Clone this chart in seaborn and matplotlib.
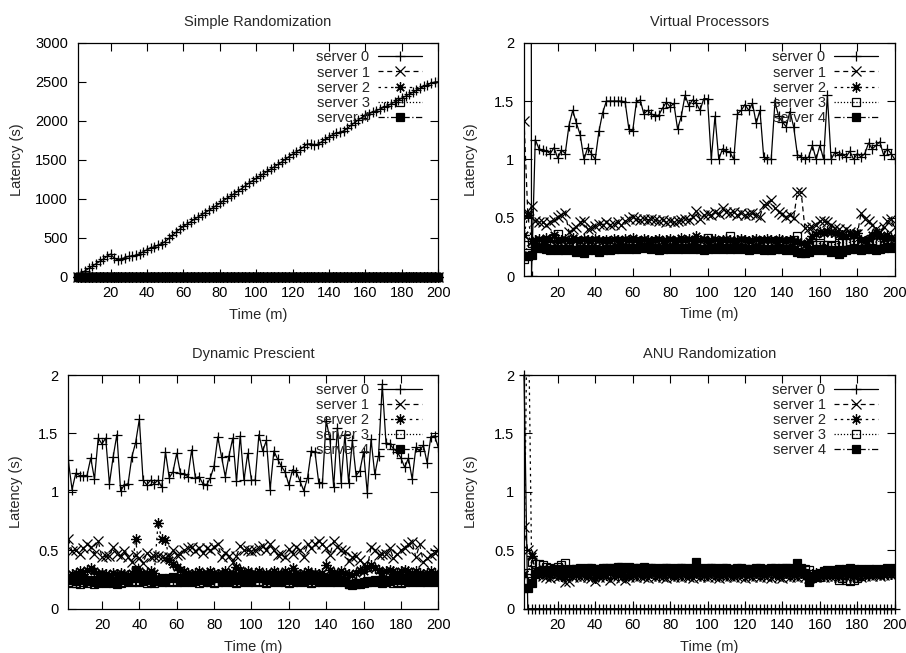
import matplotlib
matplotlib.use("Agg")
import matplotlib.pyplot as plt
import seaborn as sns
from matplotlib.ticker import FormatStrFormatter


# time axis: one sample every 2 minutes
time_m = list(range(2, 201, 2))
server_labels = ['server 0', 'server 1', 'server 2', 'server 3', 'server 4']

# --- Simple Randomization ---
simple_s0 = [15, 45, 75, 105, 135, 165, 195, 225, 260, 290,
             240, 215, 230, 245, 260, 268, 275, 295, 320, 345,
             365, 385, 400, 425, 450, 490, 530, 570, 610, 645,
             675, 705, 735, 765, 795, 822, 850, 880, 910, 940,
             975, 1005, 1035, 1065, 1095, 1130, 1165, 1200, 1230, 1260,
             1290, 1320, 1350, 1380, 1410, 1440, 1470, 1505, 1540, 1570,
             1600, 1630, 1665, 1700, 1705, 1690, 1700, 1730, 1760, 1790,
             1820, 1845, 1850, 1870, 1900, 1940, 1975, 2010, 2040, 2070,
             2090, 2110, 2130, 2150, 2170, 2190, 2215, 2240, 2265, 2290,
             2315, 2340, 2365, 2390, 2415, 2440, 2460, 2480, 2495, 2500]
simple_s1 = [0.0] * 100
simple_s2 = [0.0] * 100
simple_s3 = [0.0] * 100
simple_s4 = [0.0] * 100

# --- Virtual Processors ---
vp_s0 = [40.0, 40.0, 0.0, 1.17, 1.09, 1.08, 1.07, 1.05, 1.10, 1.01,
         1.08, 1.05, 1.29, 1.42, 1.31, 1.21, 1.00, 1.10, 1.05, 1.00,
         1.24, 1.40, 1.50, 1.50, 1.50, 1.50, 1.50, 1.49, 1.26, 1.24,
         1.49, 1.51, 1.39, 1.42, 1.39, 1.37, 1.38, 1.44, 1.49, 1.45,
         1.48, 1.26, 1.37, 1.55, 1.46, 1.51, 1.48, 1.42, 1.52, 1.52,
         1.00, 1.37, 1.00, 1.09, 1.07, 1.06, 1.00, 1.39, 1.42, 1.47,
         1.42, 1.48, 1.31, 1.42, 1.02, 1.00, 1.00, 1.49, 1.37, 1.32,
         1.28, 1.41, 1.28, 1.04, 1.02, 1.00, 1.02, 1.12, 1.00, 1.12,
         1.00, 1.55, 1.00, 1.06, 1.04, 1.05, 1.02, 1.07, 1.00, 1.05,
         1.02, 1.05, 1.14, 1.09, 1.12, 1.15, 1.04, 1.09, 1.05, 1.00]
vp_s1 = [1.33, 0.54, 0.60, 0.47, 0.46, 0.46, 0.44, 0.46, 0.48, 0.51,
         0.52, 0.54, 0.38, 0.40, 0.42, 0.46, 0.47, 0.40, 0.41, 0.43,
         0.45, 0.44, 0.46, 0.44, 0.45, 0.46, 0.44, 0.47, 0.49, 0.51,
         0.49, 0.48, 0.49, 0.48, 0.49, 0.48, 0.47, 0.48, 0.46, 0.47,
         0.46, 0.47, 0.48, 0.49, 0.48, 0.51, 0.56, 0.49, 0.52, 0.53,
         0.52, 0.55, 0.53, 0.58, 0.55, 0.54, 0.55, 0.52, 0.54, 0.52,
         0.53, 0.54, 0.52, 0.51, 0.61, 0.62, 0.65, 0.58, 0.55, 0.53,
         0.51, 0.52, 0.50, 0.72, 0.72, 0.41, 0.41, 0.42, 0.44, 0.47,
         0.47, 0.46, 0.44, 0.41, 0.40, 0.38, 0.40, 0.38, 0.36, 0.36,
         0.54, 0.49, 0.47, 0.44, 0.40, 0.38, 0.42, 0.47, 0.49, 0.42]
vp_s2 = [0.35, 0.52, 0.30, 0.31, 0.32, 0.30, 0.33, 0.31, 0.35, 0.30,
         0.31, 0.32, 0.30, 0.33, 0.31, 0.30, 0.32, 0.31, 0.30, 0.32,
         0.31, 0.30, 0.31, 0.30, 0.32, 0.31, 0.30, 0.32, 0.31, 0.33,
         0.31, 0.30, 0.32, 0.31, 0.30, 0.31, 0.32, 0.30, 0.31, 0.32,
         0.30, 0.31, 0.33, 0.31, 0.32, 0.30, 0.34, 0.31, 0.32, 0.30,
         0.31, 0.32, 0.30, 0.31, 0.32, 0.31, 0.30, 0.31, 0.32, 0.31,
         0.30, 0.31, 0.32, 0.30, 0.31, 0.32, 0.31, 0.30, 0.32, 0.31,
         0.30, 0.31, 0.30, 0.29, 0.28, 0.27, 0.30, 0.34, 0.36, 0.38,
         0.37, 0.39, 0.38, 0.37, 0.36, 0.35, 0.34, 0.36, 0.35, 0.37,
         0.31, 0.30, 0.32, 0.35, 0.38, 0.34, 0.32, 0.35, 0.33, 0.32]
vp_s3 = [0.15, 0.27, 0.28, 0.29, 0.30, 0.29, 0.31, 0.30, 0.33, 0.36,
         0.30, 0.29, 0.27, 0.28, 0.29, 0.30, 0.29, 0.30, 0.29, 0.30,
         0.28, 0.29, 0.30, 0.29, 0.28, 0.29, 0.30, 0.29, 0.28, 0.30,
         0.29, 0.30, 0.29, 0.28, 0.29, 0.30, 0.29, 0.28, 0.29, 0.30,
         0.29, 0.28, 0.29, 0.30, 0.29, 0.30, 0.29, 0.28, 0.30, 0.33,
         0.29, 0.28, 0.29, 0.30, 0.29, 0.34, 0.29, 0.28, 0.29, 0.30,
         0.29, 0.28, 0.29, 0.30, 0.29, 0.28, 0.29, 0.30, 0.29, 0.28,
         0.29, 0.30, 0.31, 0.34, 0.27, 0.26, 0.27, 0.28, 0.27, 0.28,
         0.27, 0.27, 0.26, 0.27, 0.28, 0.29, 0.28, 0.29, 0.30, 0.29,
         0.30, 0.29, 0.30, 0.31, 0.29, 0.30, 0.29, 0.30, 0.29, 0.30]
vp_s4 = [0.17, 0.17, 0.18, 0.25, 0.24, 0.24, 0.23, 0.22, 0.23, 0.22,
         0.23, 0.22, 0.23, 0.22, 0.21, 0.23, 0.20, 0.22, 0.23, 0.22,
         0.21, 0.22, 0.23, 0.22, 0.23, 0.24, 0.23, 0.24, 0.23, 0.24,
         0.23, 0.24, 0.25, 0.24, 0.23, 0.24, 0.22, 0.23, 0.24, 0.23,
         0.24, 0.23, 0.24, 0.23, 0.24, 0.23, 0.24, 0.23, 0.22, 0.23,
         0.24, 0.23, 0.24, 0.23, 0.24, 0.23, 0.24, 0.23, 0.24, 0.23,
         0.22, 0.23, 0.24, 0.23, 0.22, 0.23, 0.22, 0.23, 0.24, 0.23,
         0.22, 0.23, 0.22, 0.21, 0.20, 0.20, 0.21, 0.22, 0.23, 0.22,
         0.23, 0.22, 0.21, 0.22, 0.19, 0.21, 0.22, 0.23, 0.24, 0.23,
         0.22, 0.23, 0.24, 0.23, 0.22, 0.23, 0.24, 0.25, 0.24, 0.25]

# --- Dynamic Prescient ---
dp_s0 = [1.27, 1.02, 1.16, 1.14, 1.14, 1.14, 1.29, 1.11, 1.46, 1.41,
         1.46, 1.07, 1.30, 1.49, 1.01, 1.06, 1.07, 1.30, 1.42, 1.62,
         1.10, 1.06, 1.10, 1.07, 1.10, 1.04, 1.34, 1.12, 1.17, 1.33,
         1.16, 1.15, 1.13, 1.36, 1.12, 1.13, 1.07, 1.06, 1.12, 1.22,
         1.47, 1.30, 1.13, 1.31, 1.46, 1.09, 1.48, 1.10, 1.33, 1.10,
         1.10, 1.49, 1.35, 1.44, 1.02, 1.35, 1.28, 1.22, 1.17, 1.06,
         1.19, 1.17, 1.09, 1.01, 1.12, 1.35, 1.34, 1.08, 1.08, 1.61,
         1.45, 1.04, 1.55, 1.08, 1.49, 1.08, 1.44, 1.14, 1.18, 1.34,
         0.99, 1.45, 1.15, 1.31, 1.92, 1.42, 1.41, 1.37, 1.34, 1.29,
         1.21, 1.29, 1.11, 1.38, 1.35, 1.40, 1.25, 1.47, 1.48, 1.38]
dp_s1 = [0.60, 0.49, 0.50, 0.47, 0.52, 0.55, 0.53, 0.47, 0.58, 0.44,
         0.45, 0.45, 0.53, 0.47, 0.45, 0.49, 0.44, 0.40, 0.46, 0.43,
         0.39, 0.48, 0.44, 0.45, 0.45, 0.44, 0.43, 0.44, 0.50, 0.46,
         0.47, 0.50, 0.52, 0.53, 0.49, 0.52, 0.48, 0.52, 0.50, 0.53,
         0.55, 0.44, 0.48, 0.45, 0.40, 0.45, 0.54, 0.50, 0.50, 0.49,
         0.50, 0.52, 0.54, 0.50, 0.55, 0.50, 0.46, 0.47, 0.44, 0.51,
         0.47, 0.53, 0.50, 0.44, 0.55, 0.52, 0.55, 0.58, 0.55, 0.52,
         0.46, 0.58, 0.53, 0.50, 0.49, 0.41, 0.44, 0.45, 0.42, 0.38,
         0.35, 0.53, 0.50, 0.46, 0.47, 0.47, 0.52, 0.43, 0.47, 0.50,
         0.52, 0.55, 0.57, 0.44, 0.55, 0.40, 0.43, 0.46, 0.48, 0.50]
dp_s2 = [0.28, 0.30, 0.31, 0.32, 0.30, 0.33, 0.35, 0.32, 0.30, 0.31,
         0.30, 0.29, 0.31, 0.30, 0.31, 0.30, 0.29, 0.31, 0.60, 0.32,
         0.30, 0.31, 0.32, 0.31, 0.73, 0.60, 0.59, 0.42, 0.38, 0.36,
         0.33, 0.32, 0.31, 0.30, 0.31, 0.32, 0.30, 0.31, 0.32, 0.31,
         0.30, 0.31, 0.32, 0.30, 0.31, 0.36, 0.33, 0.31, 0.32, 0.30,
         0.31, 0.32, 0.30, 0.31, 0.30, 0.32, 0.31, 0.30, 0.32, 0.31,
         0.35, 0.31, 0.30, 0.31, 0.32, 0.30, 0.31, 0.30, 0.31, 0.37,
         0.33, 0.31, 0.30, 0.32, 0.31, 0.30, 0.29, 0.31, 0.33, 0.32,
         0.36, 0.37, 0.35, 0.33, 0.31, 0.32, 0.33, 0.32, 0.31, 0.32,
         0.33, 0.32, 0.31, 0.32, 0.31, 0.30, 0.31, 0.32, 0.31, 0.30]
dp_s3 = [0.23, 0.22, 0.22, 0.21, 0.23, 0.22, 0.24, 0.21, 0.22, 0.23,
         0.22, 0.23, 0.22, 0.21, 0.22, 0.23, 0.24, 0.23, 0.24, 0.23,
         0.24, 0.22, 0.23, 0.22, 0.24, 0.23, 0.24, 0.23, 0.24, 0.23,
         0.24, 0.23, 0.24, 0.23, 0.24, 0.22, 0.23, 0.24, 0.23, 0.22,
         0.23, 0.24, 0.23, 0.24, 0.23, 0.22, 0.23, 0.24, 0.23, 0.24,
         0.23, 0.24, 0.23, 0.22, 0.23, 0.24, 0.23, 0.24, 0.23, 0.22,
         0.23, 0.24, 0.23, 0.24, 0.23, 0.22, 0.23, 0.24, 0.23, 0.24,
         0.23, 0.24, 0.23, 0.24, 0.23, 0.21, 0.20, 0.21, 0.22, 0.23,
         0.24, 0.23, 0.24, 0.23, 0.22, 0.23, 0.24, 0.22, 0.23, 0.22,
         0.23, 0.24, 0.23, 0.24, 0.23, 0.24, 0.23, 0.24, 0.23, 0.24]
dp_s4 = [0.26, 0.25, 0.24, 0.25, 0.26, 0.24, 0.25, 0.23, 0.24, 0.25,
         0.24, 0.25, 0.24, 0.23, 0.25, 0.26, 0.25, 0.26, 0.33, 0.26,
         0.25, 0.26, 0.25, 0.24, 0.25, 0.26, 0.25, 0.26, 0.27, 0.26,
         0.25, 0.26, 0.25, 0.26, 0.25, 0.26, 0.25, 0.26, 0.25, 0.27,
         0.26, 0.25, 0.26, 0.25, 0.26, 0.25, 0.26, 0.25, 0.26, 0.25,
         0.26, 0.27, 0.26, 0.25, 0.26, 0.25, 0.26, 0.25, 0.26, 0.25,
         0.26, 0.25, 0.26, 0.25, 0.26, 0.25, 0.26, 0.25, 0.26, 0.25,
         0.26, 0.25, 0.26, 0.25, 0.24, 0.21, 0.21, 0.22, 0.21, 0.22,
         0.23, 0.24, 0.25, 0.24, 0.25, 0.24, 0.25, 0.26, 0.25, 0.26,
         0.25, 0.26, 0.25, 0.26, 0.25, 0.26, 0.25, 0.26, 0.25, 0.26]

# --- ANU Randomization ---
anu_s0 = [2.0] + [0.0] * 99
anu_s1 = [0.70, 0.50, 0.47, 0.33, 0.30, 0.28, 0.27, 0.26, 0.28, 0.27,
          0.29, 0.23, 0.24, 0.27, 0.28, 0.27, 0.28, 0.27, 0.26, 0.24,
          0.27, 0.28, 0.27, 0.25, 0.27, 0.28, 0.26, 0.25, 0.27, 0.28,
          0.27, 0.28, 0.27, 0.26, 0.28, 0.27, 0.28, 0.27, 0.26, 0.28,
          0.27, 0.28, 0.27, 0.28, 0.27, 0.26, 0.28, 0.27, 0.28, 0.27,
          0.28, 0.27, 0.26, 0.28, 0.27, 0.28, 0.27, 0.28, 0.27, 0.26,
          0.28, 0.27, 0.28, 0.27, 0.28, 0.27, 0.26, 0.28, 0.27, 0.26,
          0.28, 0.27, 0.28, 0.27, 0.28, 0.27, 0.26, 0.28, 0.27, 0.28,
          0.27, 0.28, 0.27, 0.28, 0.27, 0.28, 0.27, 0.28, 0.27, 0.28,
          0.27, 0.28, 0.29, 0.28, 0.29, 0.28, 0.29, 0.30, 0.29, 0.30]
anu_s2 = [0.30, 3.0, 0.45, 0.30, 0.29, 0.31, 0.30, 0.29, 0.31, 0.30,
          0.28, 0.27, 0.29, 0.30, 0.29, 0.31, 0.30, 0.29, 0.31, 0.26,
          0.29, 0.30, 0.29, 0.31, 0.30, 0.29, 0.30, 0.27, 0.29, 0.30,
          0.31, 0.30, 0.29, 0.30, 0.31, 0.30, 0.29, 0.30, 0.31, 0.30,
          0.29, 0.30, 0.31, 0.30, 0.29, 0.30, 0.31, 0.30, 0.29, 0.30,
          0.31, 0.30, 0.29, 0.30, 0.31, 0.30, 0.29, 0.30, 0.31, 0.30,
          0.29, 0.30, 0.31, 0.30, 0.29, 0.30, 0.31, 0.30, 0.29, 0.30,
          0.31, 0.30, 0.29, 0.30, 0.31, 0.30, 0.29, 0.30, 0.31, 0.30,
          0.29, 0.30, 0.31, 0.30, 0.29, 0.30, 0.31, 0.30, 0.29, 0.30,
          0.31, 0.30, 0.29, 0.30, 0.31, 0.30, 0.29, 0.31, 0.30, 0.31]
anu_s3 = [0.24, 0.31, 0.40, 0.38, 0.38, 0.37, 0.36, 0.35, 0.34, 0.36,
          0.37, 0.39, 0.34, 0.33, 0.34, 0.35, 0.34, 0.33, 0.35, 0.34,
          0.33, 0.34, 0.35, 0.34, 0.35, 0.36, 0.34, 0.33, 0.35, 0.34,
          0.35, 0.34, 0.33, 0.34, 0.35, 0.34, 0.33, 0.34, 0.35, 0.34,
          0.33, 0.34, 0.35, 0.34, 0.33, 0.34, 0.35, 0.34, 0.33, 0.34,
          0.35, 0.34, 0.33, 0.34, 0.35, 0.34, 0.33, 0.34, 0.35, 0.34,
          0.33, 0.34, 0.35, 0.34, 0.33, 0.34, 0.35, 0.34, 0.33, 0.34,
          0.35, 0.34, 0.33, 0.34, 0.35, 0.34, 0.33, 0.30, 0.28, 0.27,
          0.30, 0.32, 0.31, 0.30, 0.25, 0.26, 0.25, 0.24, 0.25, 0.26,
          0.28, 0.30, 0.31, 0.32, 0.31, 0.32, 0.33, 0.32, 0.33, 0.32]
anu_s4 = [0.18, 0.18, 0.22, 0.30, 0.32, 0.33, 0.32, 0.33, 0.34, 0.33,
          0.34, 0.33, 0.32, 0.33, 0.34, 0.33, 0.34, 0.35, 0.34, 0.33,
          0.34, 0.35, 0.34, 0.35, 0.34, 0.35, 0.36, 0.35, 0.36, 0.35,
          0.34, 0.35, 0.36, 0.35, 0.34, 0.35, 0.34, 0.35, 0.34, 0.35,
          0.34, 0.35, 0.34, 0.35, 0.34, 0.35, 0.40, 0.35, 0.34, 0.35,
          0.34, 0.35, 0.34, 0.35, 0.34, 0.33, 0.34, 0.35, 0.34, 0.33,
          0.34, 0.33, 0.34, 0.35, 0.34, 0.33, 0.34, 0.35, 0.34, 0.35,
          0.34, 0.35, 0.34, 0.39, 0.33, 0.31, 0.23, 0.26, 0.29, 0.31,
          0.32, 0.33, 0.32, 0.33, 0.34, 0.33, 0.34, 0.35, 0.34, 0.33,
          0.34, 0.33, 0.34, 0.33, 0.34, 0.33, 0.34, 0.35, 0.34, 0.35]

# gnuplot-like monochrome line types
line_styles = [
    dict(linestyle='-', marker='+', markersize=7.5, markerfacecolor='none'),
    dict(linestyle=(0, (4, 3)), marker='x', markersize=6.5, markerfacecolor='none'),
    dict(linestyle=(0, (2, 3)), marker=(8, 2, 0), markersize=7.5, markerfacecolor='none'),
    dict(linestyle=(0, (1, 1.5)), marker='s', markersize=5.5, markerfacecolor='none'),
    dict(linestyle=(0, (5, 2, 1, 2)), marker='s', markersize=5.5, markerfacecolor='black'),
]


def draw_panel(ax, title, series, ymax, ystep, ylab_x, noclip=()):
    for i, vals in enumerate(series):
        sns.lineplot(x=time_m, y=vals, ax=ax, color='black', linewidth=0.9,
                     markeredgecolor='black', markeredgewidth=0.9,
                     label=server_labels[i], estimator=None, sort=False,
                     clip_on=(i not in noclip), **line_styles[i])
    ax.set_xlim(2, 200)
    ax.set_ylim(0, ymax)
    ax.set_xticks(range(20, 201, 20))
    yt = [k * ystep for k in range(int(round(ymax / ystep)) + 1)]
    ax.set_yticks(yt)
    ax.yaxis.set_major_formatter(FormatStrFormatter('%g'))
    ax.tick_params(direction='in', length=6, width=0.8, top=True, right=True,
                   labelsize=10.5, pad=7, colors='black')
    for sp in ax.spines.values():
        sp.set_linewidth(0.9)
        sp.set_color('black')
    ax.set_title(title, fontsize=10.5, pad=12)
    ax.set_xlabel('Time (m)', fontsize=10.5)
    ax.set_ylabel('Latency (s)', fontsize=10.5)
    ax.xaxis.set_label_coords(0.5, -0.133)
    ax.yaxis.set_label_coords(ylab_x, 0.5)
    ax.legend(loc='upper right', bbox_to_anchor=(0.955, 0.967), frameon=False,
              markerfirst=False, handlelength=3.0, handletextpad=0.6,
              labelspacing=0.08, borderpad=0, borderaxespad=0,
              fontsize=10.5, numpoints=1)


sns.set_style('ticks')
plt.rcParams['font.family'] = ['Liberation Sans', 'DejaVu Sans']

fig = plt.figure(figsize=(9.06, 6.53), dpi=100)
ax1 = fig.add_axes([0.0858, 0.5763, 0.398, 0.3583])
ax2 = fig.add_axes([0.5784, 0.5773, 0.4092, 0.3573])
ax3 = fig.add_axes([0.0754, 0.0678, 0.4084, 0.3579])
ax4 = fig.add_axes([0.5784, 0.0678, 0.4092, 0.3579])

draw_panel(ax1, 'Simple Randomization',
           [simple_s0, simple_s1, simple_s2, simple_s3, simple_s4],
           3000, 500, -0.149, noclip=(1, 2, 3, 4))
draw_panel(ax2, 'Virtual Processors',
           [vp_s0, vp_s1, vp_s2, vp_s3, vp_s4], 2, 0.5, -0.124)
draw_panel(ax3, 'Dynamic Prescient',
           [dp_s0, dp_s1, dp_s2, dp_s3, dp_s4], 2, 0.5, -0.122)
draw_panel(ax4, 'ANU Randomization',
           [anu_s0, anu_s1, anu_s2, anu_s3, anu_s4], 2, 0.5, -0.124,
           noclip=(0,))

fig.savefig('out.png', dpi=100, facecolor='white')
